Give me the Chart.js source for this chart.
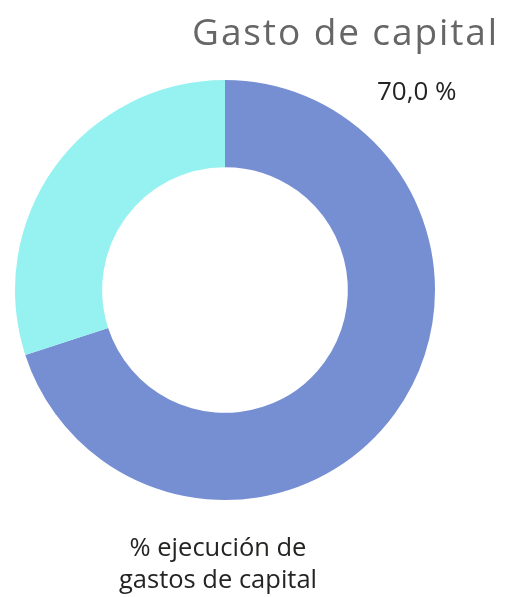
<!DOCTYPE html>
<html><head><meta charset="utf-8">
<script src="https://cdn.jsdelivr.net/npm/chart.js@4/dist/chart.umd.min.js"></script>
<style>html,body{margin:0;padding:0;background:#fff;overflow:hidden}#c{display:block}</style>
</head><body>
<canvas id="c" width="509" height="597"></canvas>
<script>
const categories = ["% ejecución de gastos de capital", "Restante"];
const values = [70.0, 30.0];
const colors = ["#768FD3", "#95F2F1"];
const titleText = "Gasto de capital";
const valueLabel = "70,0 %";
const bottomLabelLines = ["% ejecución de", "gastos de capital"];

const textPlugin = {
  id: 'texts',
  afterDraw(chart) {
    const ctx = chart.ctx;
    ctx.save();
    ctx.fillStyle = '#666666';
    ctx.font = '400 37px "Open Sans"';
    ctx.textAlign = 'right';
    ctx.textBaseline = 'alphabetic';
    ctx.letterSpacing = '1.9px';
    ctx.fillText(titleText, 499, 45);
    ctx.letterSpacing = '0px';
    ctx.fillStyle = '#252423';
    ctx.font = '26px "Open Sans"';
    ctx.textAlign = 'left';
    ctx.fillText(valueLabel, 377, 100);
    ctx.textAlign = 'center';
    ctx.font = '25.5px "Open Sans"';
    ctx.fillText(bottomLabelLines[0], 218, 556);
    ctx.fillText(bottomLabelLines[1], 218, 588);
    ctx.restore();
  }
};

new Chart(document.getElementById('c'), {
  type: 'doughnut',
  data: {
    labels: categories,
    datasets: [{ data: values, backgroundColor: colors, borderWidth: 0 }]
  },
  options: {
    responsive: false,
    animation: false,
    cutout: '58.5%',
    layout: { padding: { left: 15, right: 74, top: 80, bottom: 97 } },
    plugins: { legend: { display: false }, tooltip: { enabled: false }, title: { display: false } }
  },
  plugins: [textPlugin]
});
</script>
</body></html>
